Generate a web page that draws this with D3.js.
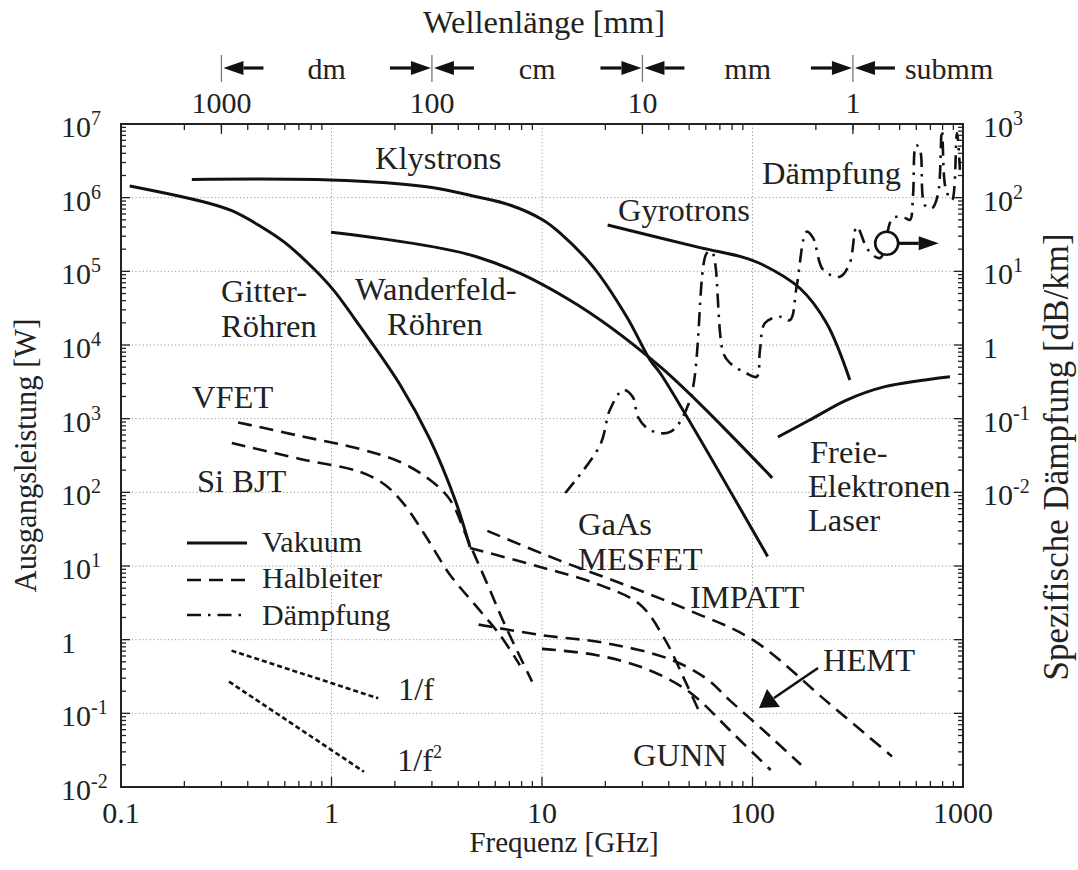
<!DOCTYPE html>
<html><head><meta charset="utf-8">
<script src="https://cdn.jsdelivr.net/npm/d3@7/dist/d3.min.js"></script>
<style>
body{margin:0;background:#fff}
svg{font-family:"Liberation Serif","Times New Roman",serif;fill:#222}
</style>
</head><body>
<svg id="c" width="1078" height="870"></svg>
<script>
// ---------- data ----------
const xDomain = [0.1, 1000];          // Frequenz [GHz]
const yDomain = [1e-2, 1e7];          // Ausgangsleistung [W]
const y2Domain = [1e-6, 1e3];         // Spezifische Dämpfung [dB/km]

const xTickValues = [0.1, 1, 10, 100, 1000];
const xTickLabels = ["0.1", "1", "10", "100", "1000"];
const yTickValues = [1e7, 1e6, 1e5, 1e4, 1e3, 1e2, 1e1, 1, 1e-1, 1e-2];
const yTickBase = ["10", "10", "10", "10", "10", "10", "10", "1", "10", "10"];
const yTickExp = ["7", "6", "5", "4", "3", "2", "1", "", "-1", "-2"];
const y2TickValues = [1e3, 1e2, 1e1, 1, 1e-1, 1e-2];
const y2TickBase = ["10", "10", "10", "1", "10", "10"];
const y2TickExp = ["3", "2", "1", "", "-1", "-2"];
const wavelengthTicks = [1000, 100, 10, 1];   // mm
const bandLabels = ["dm", "cm", "mm", "submm"];

// Vakuum (solid)  [GHz, W]
const gitterRoehren = [[0.11,1.44e6],[0.246,8.8e5],[0.336,6.65e5],[0.449,4.26e5],[0.601,2.45e5],[0.819,1.1e5],[1.02,5.6e4],[1.37,1.77e4],[2.12,2.87e3],[2.94,520],[3.86,80],[4.55,18]];
const klystrons = [[0.217,1.77e6],[0.99,1.74e6],[2.83,1.41e6],[4.89,1.03e6],[7.04,7.95e5],[10.1,4.98e5],[12.2,3.3e5],[17.5,1.15e5],[25.3,2.4e4],[32.6,6.26e3],[36.4,4.17e3],[118,13.5]];
const wanderfeld = [[0.995,3.39e5],[4.89,1.58e5],[13.1,4.31e4],[36.4,5.08e3],[124,157]];
const gyrotrons = [[20.5,4.26e5],[56.3,2.1e5],[90.4,1.55e5],[112.5,1.22e5],[168,5.89e4],[225,1.97e4],[290,3.35e3]];
const fel = [[132,564],[187,959],[280,1.79e3],[426,2.72e3],[867,3.72e3]];

// Halbleiter (dashed) [GHz, W]
const vfet = [[0.36,890],[0.709,582],[1.37,387],[2.12,258],[2.94,147],[3.66,79],[4.45,22.5],[5.66,4.7],[6.67,1.58],[8.97,0.27]];
const siBjt = [[0.336,468],[0.709,284],[1.37,189],[1.8,126],[2.23,67],[2.78,26.4],[3.66,7.55],[4.81,2.96],[6.31,1.16],[7.85,0.45]];
const gaasMesfet = [[4.55,17.6],[9.8,9.7],[18.9,5.5],[29.2,3.0],[38.4,1.0],[47.7,0.28],[56.3,0.1]];
const impatt = [[5.5,30],[12,12],[25,5.5],[50,2.5],[100,1],[230,0.138],[460,0.026]];
const hemt = [[5.0,1.6],[10,1.15],[20,0.9],[40,0.55],[60,0.3],[78,0.15],[120,0.05],[170,0.02]];
const gunn = [[10,0.75],[18,0.62],[30,0.42],[45,0.24],[56,0.15],[80,0.055],[122,0.017]];

// Rauschen (dotted) [GHz, W]
const invF = [[0.335,0.71],[1.668,0.16]];
const invF2 = [[0.326,0.269],[1.427,0.0161]];

// Dämpfung (dash-dot) [GHz, dB/km]
const daempfung = [[12.9,0.0098],[18.9,0.044],[21.0,0.131],[24.3,0.245],[27.0,0.197],[28.6,0.105],[32.6,0.07],[40.6,0.066],[50.5,0.18],[60.6,17.6],[64.0,18.5],[66.4,13.0],[72.7,0.77],[78.2,0.57],[93.9,0.41],[104.7,0.37],[108.5,0.855],[114.6,1.99],[135,2.42],[150.7,2.18],[162,6.18],[181,34.5],[194,28.4],[217,10.4],[260,8.45],[290,13.0],[313,40.4],[354,19.5],[404,15.2],[464,53],[530,53],[560,50],[579,109],[598,519],[625,444],[659,79],[712,72],[760,110],[794,830],[830,127],[887,93],[936,755],[967,238]];
const circleMarker = [434, 24];   // [GHz, dB/km]

// ---------- layout ----------
const svg = d3.select("#c");
const L = 121, R = 963, T = 124, B = 787;
const x = d3.scaleLog().domain(xDomain).range([L, R]);
const y = d3.scaleLog().domain(yDomain).range([B, T]);
const y2 = d3.scaleLog().domain(y2Domain).range([B, T]);
const FS = 30, AF = 32.5;

// grid
const gridG = svg.append("g").attr("stroke","#9a9a9a").attr("stroke-width",1).attr("stroke-dasharray","1.2,2.4");
[1,10,100].forEach(v => gridG.append("line").attr("x1",x(v)).attr("x2",x(v)).attr("y1",T).attr("y2",B));
yTickValues.slice(1,-1).forEach(v => gridG.append("line").attr("x1",L).attr("x2",R).attr("y1",y(v)).attr("y2",y(v)));

function logTicks(lo, hi){ const out=[]; for(let e=Math.floor(Math.log10(lo)); e<Math.log10(hi); e++){ for(let m=1;m<10;m++){ const v=m*Math.pow(10,e); if(v>=lo*0.999 && v<=hi*1.001) out.push({v, major:m===1}); } } out.push({v:hi,major:true}); return out; }

const tickG = svg.append("g").attr("stroke","#222").attr("stroke-width",1.3);
logTicks(0.1,1000).forEach(t => tickG.append("line").attr("x1",x(t.v)).attr("x2",x(t.v)).attr("y1",B).attr("y2",B-(t.major?10:6)));
logTicks(0.1,1000).forEach(t => { if(!t.major) tickG.append("line").attr("x1",x(t.v)).attr("x2",x(t.v)).attr("y1",T).attr("y2",T+6); });
wavelengthTicks.forEach(w => tickG.append("line").attr("x1",x(300/w)).attr("x2",x(300/w)).attr("y1",T).attr("y2",T+10));
logTicks(1e-2,1e7).forEach(t => {
  tickG.append("line").attr("x1",L).attr("x2",L+(t.major?9:5)).attr("y1",y(t.v)).attr("y2",y(t.v));
  tickG.append("line").attr("x1",R).attr("x2",R-(t.major?9:5)).attr("y1",y(t.v)).attr("y2",y(t.v));
});

svg.append("rect").attr("x",L).attr("y",T).attr("width",R-L).attr("height",B-T).attr("fill","none").attr("stroke","#222").attr("stroke-width",2);

// tick labels
xTickValues.forEach((v,i) => svg.append("text").attr("x",x(v)).attr("y",823).attr("text-anchor","middle").attr("font-size",FS).text(xTickLabels[i]));
function expLabel(xp, yp, base, exp){
  const t = svg.append("text").attr("x",xp).attr("y",yp).attr("font-size",FS);
  t.append("tspan").text(base);
  if(exp) t.append("tspan").attr("dy",-12).attr("font-size",20).text(exp);
}
yTickValues.forEach((v,i) => expLabel(61, y(v)+13, yTickBase[i], yTickExp[i]));
y2TickValues.forEach((v,i) => expLabel(983, y2(v)+13, y2TickBase[i], y2TickExp[i]));

// axis titles
svg.append("text").attr("x",(L+R)/2+22).attr("y",852).attr("text-anchor","middle").attr("font-size",29).text("Frequenz [GHz]");
svg.append("text").attr("transform",`translate(36,${(T+B)/2}) rotate(-90)`).attr("text-anchor","middle").attr("font-size",30.5).text("Ausgangsleistung [W]");
svg.append("text").attr("transform",`translate(1068,457) rotate(-90)`).attr("text-anchor","middle").attr("font-size",35).text("Spezifische Dämpfung [dB/km]");
svg.append("text").attr("x",544).attr("y",33).attr("text-anchor","middle").attr("font-size",32.5).text("Wellenlänge [mm]");

// wavelength scale
wavelengthTicks.forEach(w => {
  svg.append("text").attr("x",x(300/w)).attr("y",113).attr("text-anchor","middle").attr("font-size",FS).text(w);
  svg.append("line").attr("x1",x(300/w)).attr("x2",x(300/w)).attr("y1",55).attr("y2",82).attr("stroke","#777").attr("stroke-width",1.3);
});
function arrow(x1, x2, yy, head, hw){
  const dir = Math.sign(x2-x1); hw = hw||7;
  svg.append("line").attr("x1",x1).attr("x2",x2-dir*head).attr("y1",yy).attr("y2",yy).attr("stroke","#111").attr("stroke-width",3.2);
  svg.append("path").attr("d",`M${x2},${yy} L${x2-dir*head},${yy-hw} L${x2-dir*head},${yy+hw} Z`).attr("fill","#111");
}
wavelengthTicks.forEach((w,i) => {
  const px = x(300/w);
  arrow(px+42, px+2, 68, 20);
  if(i>0) arrow(px-42, px-1, 68, 20);
});
bandLabels.forEach((b,i) => {
  if(i < 3){
    const mid = (x(300/wavelengthTicks[i]) + x(300/wavelengthTicks[i+1]))/2;
    svg.append("text").attr("x",mid).attr("y",79).attr("text-anchor","middle").attr("font-size",FS).text(b);
  } else {
    svg.append("text").attr("x",x(300/wavelengthTicks[3])+52).attr("y",79).attr("font-size",FS).text(b);
  }
});

// curves
const plot = svg.append("g");
const lineP = d3.line().x(d=>x(d[0])).y(d=>y(d[1])).curve(d3.curveCatmullRom.alpha(0.5));
const lineD = d3.line().x(d=>x(d[0])).y(d=>y2(d[1])).curve(d3.curveCatmullRom.alpha(0.5));
const solid = {stroke:"#111","stroke-width":3,fill:"none"};
const dashed = {stroke:"#111","stroke-width":2.6,fill:"none","stroke-dasharray":"14,8"};
const dotted = {stroke:"#111","stroke-width":2.6,fill:"none","stroke-dasharray":"5,3"};
const dashdot = {stroke:"#111","stroke-width":2.6,fill:"none","stroke-dasharray":"14,7,2.5,7"};
function draw(data, style, gen){ const p = plot.append("path").datum(data).attr("d", gen||lineP); Object.entries(style).forEach(([k,v])=>p.attr(k,v)); }
[gitterRoehren, klystrons, wanderfeld, gyrotrons, fel].forEach(d => draw(d, solid));
[vfet, siBjt, gaasMesfet, impatt, hemt, gunn].forEach(d => draw(d, dashed));
[invF, invF2].forEach(d => draw(d, dotted));
draw(daempfung, dashdot, lineD);

const cx = x(circleMarker[0]), cy = y2(circleMarker[1]);
plot.append("circle").attr("cx",cx).attr("cy",cy).attr("r",11.5).attr("fill","#fff").attr("stroke","#111").attr("stroke-width",2.6);
arrow(cx+11.5, cx+52, cy, 20);

// HEMT pointer
plot.append("line").attr("x1",818).attr("y1",668).attr("x2",774).attr("y2",698).attr("stroke","#111").attr("stroke-width",2.6);
plot.append("path").attr("d","M759,708 L767,689 L780,707 Z").attr("fill","#111");

const ann = [
  ["Klystrons",375,169],["Gyrotrons",618,221],["Dämpfung",762,184],
  ["Gitter-",221,302],["Röhren",221,337],["Wanderfeld-",355,300],["Röhren",387,335],
  ["VFET",192,408],["Si BJT",197,492],
  ["GaAs",578,535],["MESFET",578,570],["IMPATT",690,608],["HEMT",823,671],["GUNN",633,766],
  ["Freie-",810,463],["Elektronen",808,497],["Laser",808,531],
  ["1/f",398,700]
];
ann.forEach(a => svg.append("text").attr("x",a[1]).attr("y",a[2]).attr("font-size",AF).text(a[0]));
const f2 = svg.append("text").attr("x",397).attr("y",771).attr("font-size",AF);
f2.append("tspan").text("1/f"); f2.append("tspan").attr("dy",-13).attr("font-size",18).text("2");

const leg = [["Vakuum",solid,543,552],["Halbleiter",dashed,580,588],["Dämpfung",dashdot,615,625]];
leg.forEach(l => {
  const ln = svg.append("line").attr("x1",187).attr("x2",247).attr("y1",l[2]).attr("y2",l[2]);
  Object.entries(l[1]).forEach(([k,v])=>ln.attr(k,v));
  svg.append("text").attr("x",262).attr("y",l[3]).attr("font-size",FS).text(l[0]);
});
</script>
</body></html>
